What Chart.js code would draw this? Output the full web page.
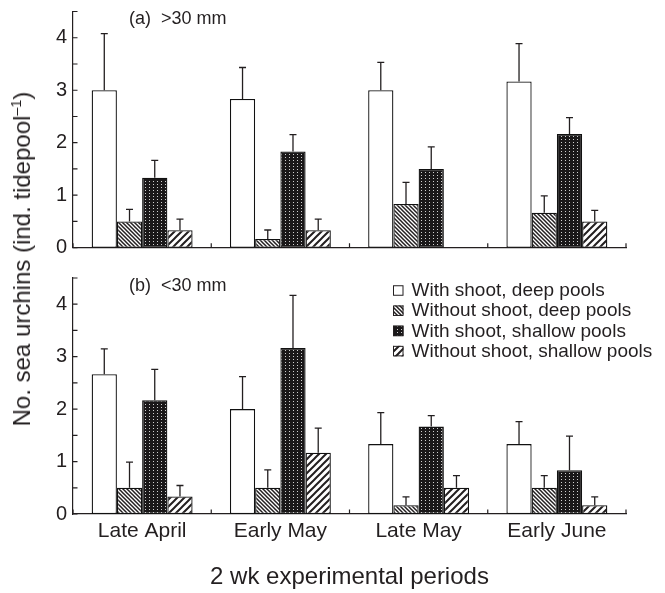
<!DOCTYPE html>
<html>
<head>
<meta charset="utf-8">
<script src="https://cdn.jsdelivr.net/npm/chart.js@4.4.1/dist/chart.umd.min.js"></script>
<style>
  html, body { margin: 0; padding: 0; background: #ffffff; }
  #wrap { position: relative; width: 665px; height: 593px; overflow: hidden;
          font-family: 'Liberation Sans', Arial, sans-serif; color: #231f20; }
  #panelA { position: absolute; left: 0; top: 0; }
  #panelB { position: absolute; left: 0; top: 262px; }
  #ytitle { position: absolute; left: 22px; top: 259px; white-space: nowrap;
            font-size: 24px; transform: translate(-50%, -50%) rotate(-90deg); }
  #ytitle sup { font-size: 60%; vertical-align: 0.6em; line-height: 0; }
</style>
</head>
<body>
<div id="wrap">
  <canvas id="panelA" width="665" height="262"></canvas>
  <canvas id="panelB" width="665" height="331"></canvas>
  <div id="ytitle">No. sea urchins (ind. tidepool<sup>–1</sup>)</div>
</div>
<script>
// Sampling periods (x categories)
const periods = ['Late April', 'Early May', 'Late May', 'Early June'];
const treatments = ['With shoot, deep pools', 'Without shoot, deep pools',
                    'With shoot, shallow pools', 'Without shoot, shallow pools'];
const xTitle = '2 wk experimental periods';
const yTickMax = 4.5;
const yTickStep = 0.5;

// (a) urchins > 30 mm: means and standard errors
const aWithDeep      = [3.0, 2.833, 3.0, 3.167];
const aWithDeepSE    = [1.08, 0.60, 0.53, 0.72];
const aWithoutDeep   = [0.5, 0.167, 0.833, 0.667];
const aWithoutDeepSE = [0.23, 0.17, 0.41, 0.32];
const aWithShallow   = [1.333, 1.833, 1.5, 2.167];
const aWithShallowSE = [0.33, 0.32, 0.42, 0.31];
const aWithoutShallow   = [0.333, 0.333, 0, 0.5];
const aWithoutShallowSE = [0.21, 0.21, 0, 0.21];

// (b) urchins < 30 mm: means and standard errors
const bWithDeep      = [2.667, 2.0, 1.333, 1.333];
const bWithDeepSE    = [0.48, 0.62, 0.60, 0.43];
const bWithoutDeep   = [0.5, 0.5, 0.167, 0.5];
const bWithoutDeepSE = [0.49, 0.34, 0.16, 0.23];
const bWithShallow   = [2.167, 3.167, 1.667, 0.833];
const bWithShallowSE = [0.59, 1.0, 0.21, 0.65];
const bWithoutShallow   = [0.333, 1.167, 0.5, 0.167];
const bWithoutShallowSE = [0.21, 0.47, 0.23, 0.16];

const ink = '#231f20';
const FONT = "'Liberation Sans', Arial, sans-serif";

// ---- fill patterns ----
function makePattern(w, h, paint) {
  const c = document.createElement('canvas');
  c.width = w; c.height = h;
  const g = c.getContext('2d');
  paint(g, w, h);
  return g.createPattern(c, 'repeat');
}
const fillOpen = '#ffffff';
const fillFineHatch = makePattern(4, 4, (g, w, h) => {
  g.fillStyle = '#ffffff'; g.fillRect(0, 0, w, h);
  g.strokeStyle = ink; g.lineWidth = 1.5;
  g.beginPath();
  g.moveTo(-1, -1); g.lineTo(w + 1, h + 1);
  g.moveTo(-1, h - 1); g.lineTo(1, h + 1);
  g.moveTo(w - 1, -1); g.lineTo(w + 1, 1);
  g.stroke();
});
const fillDots = makePattern(4, 3, (g, w, h) => {
  g.fillStyle = '#1a1819'; g.fillRect(0, 0, w, h);
  g.fillStyle = '#d0d0d0'; g.fillRect(1, 1, 1, 1);
});
const fillWideHatch = makePattern(7, 7, (g, w, h) => {
  g.fillStyle = '#ffffff'; g.fillRect(0, 0, w, h);
  g.strokeStyle = ink; g.lineWidth = 2;
  g.beginPath();
  g.moveTo(-1, h + 1); g.lineTo(w + 1, -1);
  g.moveTo(-1, 1); g.lineTo(1, -1);
  g.moveTo(w - 1, h + 1); g.lineTo(w + 1, h - 1);
  g.stroke();
});
const fills = [fillOpen, fillFineHatch, fillDots, fillWideHatch];

function makeDatasets(series, errors) {
  return series.map((vals, k) => ({
    label: treatments[k],
    data: vals,
    errors: errors[k],
    backgroundColor: fills[k],
    borderColor: '#111111',
    borderWidth: 1.3,
    borderSkipped: false,
    categoryPercentage: 0.73,
    barPercentage: 1.0
  }));
}

// ---- drawing helpers (error bars, inward tick marks, labels, legend) ----
const panelDecor = {
  id: 'panelDecor',
  afterDatasetsDraw(chart) {
    const ctx = chart.ctx;
    const y = chart.scales.y;
    ctx.save();
    ctx.strokeStyle = ink;
    ctx.lineWidth = 1.3;
    chart.data.datasets.forEach((ds, di) => {
      const meta = chart.getDatasetMeta(di);
      meta.data.forEach((bar, i) => {
        const e = ds.errors[i];
        if (!e) return;
        const yTop = y.getPixelForValue(ds.data[i] + e);
        ctx.beginPath();
        ctx.moveTo(bar.x, bar.y);
        ctx.lineTo(bar.x, yTop);
        ctx.moveTo(bar.x - 3.5, yTop);
        ctx.lineTo(bar.x + 3.5, yTop);
        ctx.stroke();
      });
    });
    ctx.restore();
  },
  afterDraw(chart, args, opts) {
    const ctx = chart.ctx;
    const x = chart.scales.x, y = chart.scales.y;
    ctx.save();
    ctx.strokeStyle = ink;
    ctx.lineWidth = 1.2;
    ctx.beginPath();
    // y ticks point into the plot
    y.ticks.forEach(t => {
      const py = y.getPixelForValue(t.value);
      ctx.moveTo(y.right, py);
      ctx.lineTo(y.right + 4.5, py);
    });
    // x ticks at category boundaries, pointing up
    for (let i = 0; i <= periods.length; i++) {
      const px = x.getPixelForValue(i - 0.5);
      ctx.moveTo(px, x.top);
      ctx.lineTo(px, x.top - 4.5);
    }
    ctx.stroke();

    // panel label
    ctx.fillStyle = ink;
    ctx.font = '18px ' + FONT;
    ctx.textBaseline = 'middle';
    ctx.textAlign = 'left';
    ctx.fillText(opts.label, 129, opts.labelY);

    // legend
    if (opts.legend) {
      ctx.font = '19px ' + FONT;
      treatments.forEach((name, k) => {
        const cy = opts.legendY + k * 20.2;
        const s = 10.5;
        ctx.fillStyle = fills[k];
        ctx.fillRect(393, cy - s / 2, s, s);
        ctx.lineWidth = 1;
        ctx.strokeRect(393.5, cy - s / 2 + 0.5, s - 1, s - 1);
        ctx.fillStyle = ink;
        ctx.fillText(name, 411.5, cy + 0.5);
      });
    }
    ctx.restore();
  }
};

function yScale() {
  return {
    min: 0, max: yTickMax,
    grid: { display: false, drawTicks: false },
    border: { display: true, color: ink, width: 1.2 },
    ticks: {
      stepSize: yTickStep, autoSkip: false, padding: 6,
      color: ink, font: { family: FONT, size: 20, lineHeight: 0.4 },
      callback: v => Number.isInteger(v) ? String(v) : ''
    },
    afterFit: s => { s.width = 73; }
  };
}

// (a) upper panel
new Chart(document.getElementById('panelA'), {
  type: 'bar',
  data: {
    labels: periods,
    datasets: makeDatasets(
      [aWithDeep, aWithoutDeep, aWithShallow, aWithoutShallow],
      [aWithDeepSE, aWithoutDeepSE, aWithShallowSE, aWithoutShallowSE])
  },
  options: {
    responsive: false, animation: false, devicePixelRatio: 1, events: [],
    layout: { padding: { left: 0, right: 39, top: 11.5, bottom: 14.3 } },
    plugins: {
      legend: { display: false }, tooltip: { enabled: false },
      panelDecor: { label: '(a)  >30 mm', labelY: 19.5, legend: false }
    },
    scales: {
      x: {
        grid: { display: false, drawTicks: false },
        border: { display: true, color: ink, width: 1.2 },
        ticks: { display: false },
        afterFit: s => { s.height = 0; }
      },
      y: yScale()
    }
  },
  plugins: [panelDecor]
});

// (b) lower panel
new Chart(document.getElementById('panelB'), {
  type: 'bar',
  data: {
    labels: periods,
    datasets: makeDatasets(
      [bWithDeep, bWithoutDeep, bWithShallow, bWithoutShallow],
      [bWithDeepSE, bWithoutDeepSE, bWithShallowSE, bWithoutShallowSE])
  },
  options: {
    responsive: false, animation: false, devicePixelRatio: 1, events: [],
    layout: { padding: { left: 0, right: 39, top: 16, bottom: 0 } },
    plugins: {
      legend: { display: false }, tooltip: { enabled: false },
      panelDecor: { label: '(b)  <30 mm', labelY: 24, legend: true, legendY: 28.5 }
    },
    scales: {
      x: {
        grid: { display: false, drawTicks: false },
        border: { display: true, color: ink, width: 1.2 },
        ticks: { padding: 5, color: ink, font: { family: FONT, size: 21 }, maxRotation: 0 },
        title: { display: true, text: xTitle, color: ink,
                 font: { family: FONT, size: 24 }, padding: { top: 0, bottom: 1 } },
        afterFit: s => { s.height = 79; }
      },
      y: yScale()
    }
  },
  plugins: [panelDecor]
});
</script>
</body>
</html>
